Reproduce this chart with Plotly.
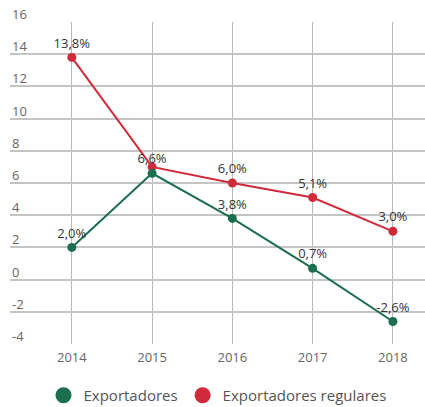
import plotly.graph_objects as go

years = [2014, 2015, 2016, 2017, 2018]
exportadores = [2.0, 6.6, 3.8, 0.7, -2.6]
exportadores_labels = ["2,0%", "6,6%", "3,8%", "0,7%", "-2,6%"]
regulares = [13.8, 7.0, 6.0, 5.1, 3.0]
regulares_labels = ["13,8%", "", "6,0%", "5,1%", "3,0%"]
y_ticks = [-4, -2, 0, 2, 4, 6, 8, 10, 12, 14, 16]

green = "#1b6e4e"
red = "#d12b3b"
font = "Open Sans"

fig = go.Figure()
fig.add_trace(go.Scatter(
    x=years, y=regulares, name="Exportadores regulares", mode="lines+markers+text",
    line=dict(color=red, width=2), marker=dict(color=red, size=9),
    text=regulares_labels, textposition="top center",
    textfont=dict(family=font, size=13, color="#333"), showlegend=False,
))
fig.add_trace(go.Scatter(
    x=years, y=exportadores, name="Exportadores", mode="lines+markers+text",
    line=dict(color=green, width=2), marker=dict(color=green, size=9),
    text=exportadores_labels, textposition="top center",
    textfont=dict(family=font, size=13, color="#333"), showlegend=False,
))
# legend-only entries (circle symbols)
fig.add_trace(go.Scatter(x=[None], y=[None], mode="markers", name="Exportadores",
                         marker=dict(color=green, size=16)))
fig.add_trace(go.Scatter(x=[None], y=[None], mode="markers", name="Exportadores regulares",
                         marker=dict(color=red, size=16)))

for v in y_ticks:
    fig.add_annotation(x=0, xref="paper", y=v, yref="y", text=str(v), showarrow=False,
                       xanchor="left", yanchor="bottom", yshift=-3,
                       font=dict(family=font, size=13, color="#666"))

fig.update_layout(
    width=425, height=407,
    margin=dict(l=10, r=0, t=22, b=63, autoexpand=False),
    paper_bgcolor="white", plot_bgcolor="white",
    font=dict(family=font, color="#666", size=13),
    showlegend=True,
    legend=dict(orientation="h", x=0.5, xanchor="center", y=-0.16, yanchor="middle",
                font=dict(size=15, color="#555")),
    xaxis=dict(range=[2013.23, 2018.4], tickvals=years, ticktext=[str(y) for y in years],
               showgrid=True, gridcolor="#b8b8b8", gridwidth=1, zeroline=False,
               showline=False, ticks="", tickfont=dict(size=13, color="#666"),
               ticklabelstandoff=4, automargin=False),
    yaxis=dict(range=[-4, 16], tickvals=y_ticks, showticklabels=False,
               showgrid=True, gridcolor="#c4c4c4", gridwidth=1.5, zeroline=False,
               ticks="", automargin=False),
)

fig.write_html("out.html", config={"displayModeBar": False},
               post_script="document.body.style.margin='0';")
